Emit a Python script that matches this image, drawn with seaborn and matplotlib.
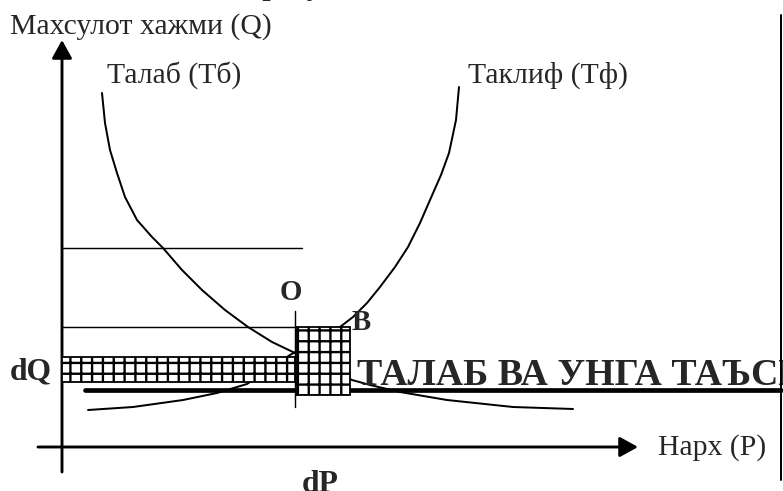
"""
Талаб ва таклиф схемаси — нарх ўзгариши (dP) ва хажм ўзгариши (dQ)
"""
import matplotlib
matplotlib.use("Agg")
import matplotlib.pyplot as plt
import seaborn as sns
import pandas as pd
from matplotlib.patches import Rectangle

# эгри чизиклар (P - нарх, Q - хажм), расмдан ўқилган
demand_p = [40, 43, 48, 55, 63, 75, 90, 101, 120, 140, 163, 186, 210, 233,
            290, 308, 338, 385, 451, 511]
demand_q = [354, 324, 297, 274, 250, 227, 210, 199, 177, 157, 137, 120, 105, 94,
            67, 62, 55, 47, 40, 38]
supply_p = [26, 71, 121, 155, 185, 228, 278, 291, 305, 318, 333, 346, 358, 368,
            379, 387, 394, 397]
supply_q = [37, 40, 47, 54, 63, 92, 120, 130, 144, 160, 180, 200, 224, 247,
            272, 294, 327, 360]

# ёрдамчи чизиклар
guide_q = [199, 120]
guide_p_end = [240, 234]
price_o = 233
dq_band = (65, 90)          # Q оралиги
dp_box_p = (234, 288)
dp_box_q = (52, 120)
base_q = 57

labels = {
    "q_axis": "Махсулот хажми (Q)",
    "p_axis": "Нарх (P)",
    "demand": "Талаб (Тб)",
    "supply": "Таклиф (Тф)",
    "heading": "ТАЛАБ ВА УНГА ТАЪСИР ЭТУВЧИ ОМИЛЛАР",
    "top": "Бозор мувозанати",
}

DPI = 130

sns.set_theme(style="white")
plt.rcParams["font.family"] = ["Liberation Serif", "DejaVu Serif"]
plt.rcParams["hatch.linewidth"] = 1.3


def draw():
    fig = plt.figure(figsize=(783 / DPI, 491 / DPI), dpi=DPI)
    ax = fig.add_axes([0, 0, 1, 1])
    ax.set_xlim(-62, 721)
    ax.set_ylim(-44, 447)
    ax.axis("off")

    demand = pd.DataFrame({"P": demand_p, "Q": demand_q})
    supply = pd.DataFrame({"P": supply_p, "Q": supply_q})
    sns.lineplot(data=demand, x="P", y="Q", sort=False, color="black", lw=1.1, ax=ax, zorder=2)
    sns.lineplot(data=supply, x="P", y="Q", sort=False, color="black", lw=1.1, ax=ax, zorder=2)

    # ўқлар
    arrow = dict(arrowstyle="-|>,head_length=0.85,head_width=0.47", color="black",
                 lw=1.6, mutation_scale=10, shrinkA=0, shrinkB=0)
    ax.annotate("", xy=(0, 407), xytext=(0, -25), arrowprops=arrow)
    ax.annotate("", xy=(576, 0), xytext=(-24, 0), arrowprops=arrow)

    for q, p_end in zip(guide_q, guide_p_end):
        ax.plot([0, p_end], [q, q], color="black", lw=0.8, zorder=2)
    ax.plot([price_o, price_o], [40, 136], color="black", lw=0.8, zorder=5)

    ax.plot([23, 719], [base_q, base_q], color="black", lw=2.6, zorder=3)
    ax.plot([719, 719], [-33, 432], color="black", lw=1.1, zorder=6)

    ax.add_patch(Rectangle((0, dq_band[0]), price_o, dq_band[1] - dq_band[0],
                           facecolor="white", edgecolor="black", hatch="++", lw=1.0, zorder=4))
    ax.add_patch(Rectangle((dp_box_p[0], dp_box_q[0]), dp_box_p[1] - dp_box_p[0],
                           dp_box_q[1] - dp_box_q[0],
                           facecolor="white", edgecolor="black", hatch="++", lw=1.0, zorder=4))

    fs = 16.5
    ax.text(-52, 420, labels["q_axis"], fontsize=fs, va="center", ha="left")
    ax.text(45, 372, labels["demand"], fontsize=fs, va="center", ha="left")
    ax.text(406, 372, labels["supply"], fontsize=fs, va="center", ha="left")
    ax.text(596, -1, labels["p_axis"], fontsize=fs, va="center", ha="left")

    ax.text(240, -23, "dP", fontsize=17.5, fontweight="bold", va="top", ha="left")
    ax.text(-52, 75, "dQ", fontsize=17.5, fontweight="bold", va="center", ha="left")
    ax.text(218, 155, "O", fontsize=16, fontweight="bold", va="center", ha="left")
    ax.text(290, 125, "B", fontsize=16, fontweight="bold", va="center", ha="left")

    head = ax.text(295, 62, labels["heading"], fontsize=21, fontweight="bold",
                   va="baseline", ha="left", zorder=5)
    clip = Rectangle((-62, -44), 781, 491, transform=ax.transData)
    head.set_clip_path(clip)

    ax.text(139, 452, labels["top"], fontsize=16.5, fontweight="bold", va="baseline", ha="left")

    fig.savefig("out.png", dpi=DPI)


if __name__ == "__main__":
    draw()
